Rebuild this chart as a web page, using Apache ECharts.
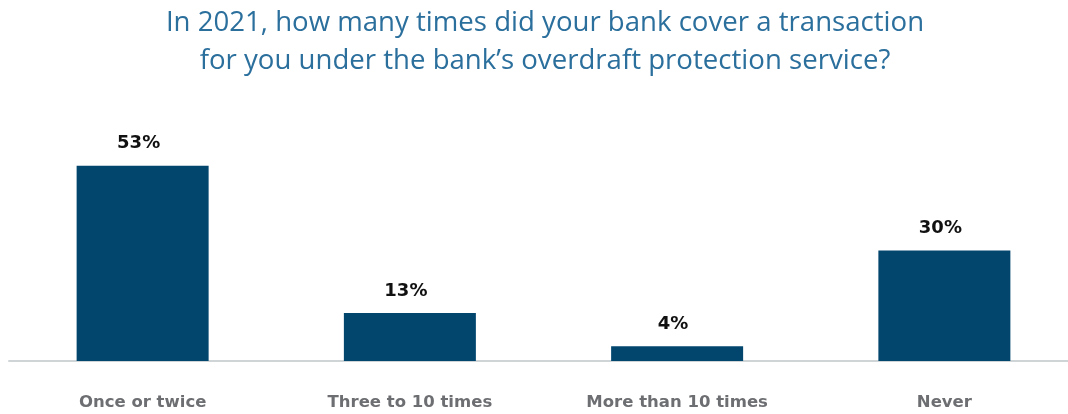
<!DOCTYPE html>
<html><head><meta charset="utf-8">
<script src="https://cdn.jsdelivr.net/npm/echarts@6/dist/echarts.min.js"></script>
<style>html,body{margin:0;padding:0;background:#fff}#c{width:1068px;height:414px}</style>
</head><body><div id="c"></div>
<script>
const titleText = "In 2021, how many times did your bank cover a transaction\nfor you under the bank’s overdraft protection service?";
const categories = ["Once or twice", "Three to 10 times", "More than 10 times", "Never"];
const values = [53, 13, 4, 30];

const chart = echarts.init(document.getElementById('c'));
chart.setOption({
  animation: false,
  title: {
    text: titleText, left: 540, textAlign: 'center', top: -1,
    textStyle: {color: '#2b6f9d', fontSize: 27.6, fontWeight: 'normal', fontFamily: 'Open Sans', lineHeight: 38}
  },
  grid: {left: 9, width: 1069, top: 140, bottom: 53, outerBoundsMode: 'none', containLabel: false},
  xAxis: {
    type: 'category', data: categories,
    axisLine: {lineStyle: {color: '#cfd4d6', width: 2}},
    axisTick: {show: false},
    axisLabel: {color: '#6d6e71', fontSize: 16.5, fontWeight: 'bold', fontFamily: 'DejaVu Sans', margin: 33}
  },
  yAxis: {type: 'value', min: 0, max: 60, show: false, splitLine: {show: false}},
  series: [{
    type: 'bar', data: values, barWidth: 132,
    itemStyle: {color: '#02466e'},
    label: {show: true, position: 'top', distance: 13, offset: [-4, 0], formatter: '{c}%', color: '#111', fontSize: 18, fontWeight: 'bold', fontFamily: 'DejaVu Sans'}
  }]
});
</script></body></html>
